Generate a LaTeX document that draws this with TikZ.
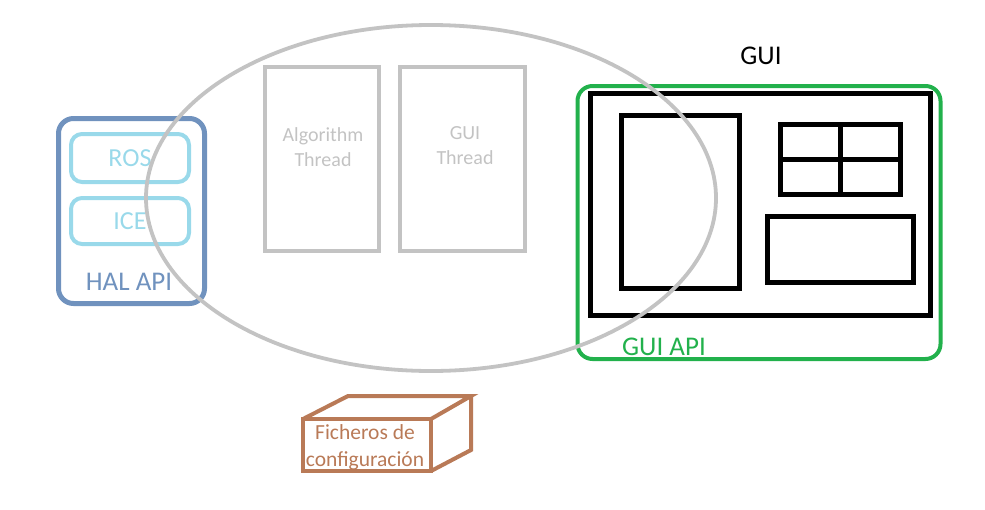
\documentclass[tikz,border=0pt]{standalone}
\usepackage{fontspec}
\setmainfont{Carlito}
\usetikzlibrary{shapes.geometric}
\definecolor{halblue}{HTML}{7092BE}
\definecolor{lightblue}{HTML}{99D9EA}
\definecolor{threadgray}{HTML}{C3C3C3}
\definecolor{guigreen}{HTML}{22B14C}
\definecolor{filebrown}{HTML}{B97A57}
\begin{document}
\begin{tikzpicture}[x=1pt,y=-1pt,
  box/.style={draw, rectangle, inner sep=0pt, outer sep=0pt},
  bigtext/.style={font=\fontsize{27}{32}\selectfont, inner sep=0pt},
  midtext/.style={font=\fontsize{26}{30}\selectfont, inner sep=0pt},
  smalltext/.style={font=\fontsize{20}{25}\selectfont, align=center, inner sep=0pt},
  halbox/.style={box, draw=halblue, line width=5pt, rounded corners=15pt},
  protobox/.style={box, draw=lightblue, line width=4pt, rounded corners=11pt, text=lightblue, midtext},
  threadbox/.style={box, draw=threadgray, line width=4pt},
  guibox/.style={box, draw=black, line width=5pt},
  greenbox/.style={box, draw=guigreen, line width=4pt, rounded corners=15pt},
  filebox/.style={box, draw=filebrown, line width=4pt},
  fileline/.style={draw=filebrown, line width=4pt, line join=miter},
  cloud/.style={draw=threadgray, line width=3.8pt, ellipse, inner sep=0pt, outer sep=0pt}
]
\useasboundingbox (0,0) rectangle (985,509);

% HAL API
\node[halbox, minimum width=146pt, minimum height=185pt] (hal) at (131.5,211) {};
\node[protobox, minimum width=118pt, minimum height=48pt] (ros) at (130,158) {ROS};
\node[protobox, minimum width=118pt, minimum height=46pt] (ice) at (130,221) {ICE};
\node[bigtext, text=halblue] (hallabel) at (129,282) {HAL API};

% Threads
\node[threadbox, minimum width=114pt, minimum height=184pt] (algo) at (322,159) {};
\node[threadbox, minimum width=125pt, minimum height=184pt] (guith) at (462.5,159) {};
\node[smalltext, text=threadgray] (algolabel) at (323,147) {Algorithm\\Thread};
\node[smalltext, text=threadgray] (guithlabel) at (465,146) {GUI\\Thread};

% GUI
\node[bigtext] (guilabel) at (761,56) {GUI};
\node[greenbox, minimum width=363pt, minimum height=273pt] (green) at (759,222.5) {};
\node[guibox, minimum width=340pt, minimum height=222pt] (window) at (760,204) {};
\node[guibox, minimum width=118pt, minimum height=173pt] (panel) at (680.5,202) {};
\node[guibox, minimum width=120pt, minimum height=70pt] (grid) at (840,159.5) {};
\draw[black, line width=5pt] (grid.north) -- (grid.south);
\draw[black, line width=5pt] (grid.west) -- (grid.east);
\node[guibox, minimum width=146pt, minimum height=66pt] (bottom) at (840.5,249) {};
\node[bigtext, text=guigreen] (guiapi) at (664,347) {GUI API};

% Ficheros de configuracion
\node[filebox, minimum width=128pt, minimum height=52pt] (front) at (367,445) {};
\coordinate (backleft) at (348,396);
\coordinate (backright) at (471,396);
\coordinate (backbottom) at (471,450);
\draw[fileline] (front.north west) -- (backleft) -- (backright) -- (front.north east);
\draw[fileline] (backright) -- (backbottom) -- (front.south east);
\node[smalltext, text=filebrown, font=\fontsize{21.5}{27}\selectfont] (filelabel) at (365,447) {Ficheros de\\configuración};

% Ellipse
\node[cloud, minimum width=570pt, minimum height=346pt] (core) at (431,198) {};
\end{tikzpicture}
\end{document}
